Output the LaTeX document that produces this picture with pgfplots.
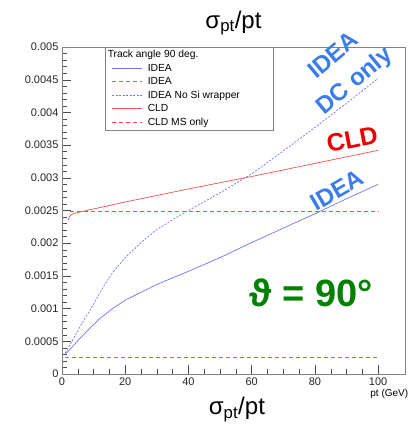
\documentclass[border=0pt]{standalone}
\usepackage{fontspec}
\setmainfont{Liberation Sans}
\usepackage{pgfplots}
\pgfplotsset{compat=1.18}

\definecolor{lnblue}{RGB}{115,115,250}
\definecolor{lnred}{RGB}{245,80,80}
\definecolor{txtblue}{RGB}{60,125,235}
\definecolor{txtred}{RGB}{235,0,0}
\definecolor{txtgreen}{RGB}{0,130,0}
\definecolor{frame}{RGB}{130,130,130}

\begin{document}
\begin{tikzpicture}
\useasboundingbox (-62pt,-58pt) rectangle (349pt,374pt);
\begin{axis}[
    scale only axis,
    width=343pt, height=327pt,
    clip mode=individual,
    xmin=0, xmax=108.5,
    ymin=0, ymax=0.005,
    xtick={0,20,...,100},
    minor x tick num=3,
    ytick={0,0.0005,...,0.0051},
    yticklabels={0,0.0005,0.001,0.0015,0.002,0.0025,0.003,0.0035,0.004,0.0045,0.005},
    minor y tick num=4,
    scaled y ticks=false,
    tick pos=left,
    tick align=inside,
    major tick length=9pt,
    minor tick length=5pt,
    axis line style={frame},
    every tick/.style={black!70},
    tick label style={font=\fontsize{11}{13}\selectfont, black!85},
    /pgf/number format/assume math mode=true,
    xlabel={pt (GeV)},
    xlabel style={at={(axis description cs:1.01,-0.047)}, anchor=north east,
        font=\fontsize{10}{12}\selectfont, inner sep=0pt},
    legend cell align=left,
    legend image code/.code={\draw[#1] (0pt,0pt) -- (30pt,0pt); \path (33pt,0pt);},
    legend style={at={(rel axis cs:0.125,1)}, anchor=north west,
        draw=frame, fill=white, font=\fontsize{10.3}{12}\selectfont,
        row sep=0.8pt, inner xsep=7pt, inner ysep=1pt},
    every axis plot/.append style={line width=0.7pt},
]
\addlegendimage{empty legend}
\addlegendentry{\hspace*{-40pt}Track angle 90 deg.}

% IDEA full
\addplot[lnblue] coordinates {
 (1,0.00030) (3,0.00040) (5,0.00051) (8,0.00066) (12,0.00085) (16,0.00100)
 (20,0.00113) (25,0.00125) (30,0.00137) (40,0.00157) (50,0.00178)
 (60,0.00201) (70,0.00223) (80,0.00245) (90,0.00268) (100,0.00290)
};
\addlegendentry{IDEA}

% IDEA MS only
\addplot[lnblue, dash pattern=on 4pt off 3pt] coordinates {
 (1,0.00026) (100,0.00026)
};
\addlegendentry{IDEA}

% IDEA no Si wrapper
\addplot[lnblue, dash pattern=on 2pt off 1.5pt] coordinates {
 (1,0.00032) (2,0.00040) (4,0.00057) (6,0.00075) (8,0.00091) (10,0.00107)
 (13,0.00133) (16,0.00155) (20,0.00178) (25,0.00201) (30,0.00221)
 (35,0.00236) (40,0.00250) (50,0.00277) (60,0.00306) (70,0.00341)
 (80,0.00377) (90,0.00414) (100,0.00452)
};
\addlegendentry{\makebox[116pt][l]{IDEA No Si wrapper}}

% CLD full
\addplot[lnred] coordinates {
 (2,0.00235) (2.3,0.00240) (2.8,0.00243) (3.5,0.00245) (5,0.00247)
 (20,0.00263) (40,0.00283) (60,0.00302) (80,0.00322) (100,0.00342)
};
\addlegendentry{CLD}

% CLD MS only
\addplot[lnred, dash pattern=on 4pt off 3pt] coordinates {
 (2.5,0.00248) (100,0.00248)
};
\addlegendentry{CLD MS only}

\node[txtblue, rotate=40, align=center, font=\fontsize{24}{33}\selectfont\bfseries]
    at (axis cs:89.5,0.00466) {IDEA\\DC only};
\node[txtred, rotate=11, font=\fontsize{25}{30}\selectfont\bfseries]
    at (axis cs:91.8,0.00359) {CLD};
\node[txtblue, rotate=30, font=\fontsize{24}{30}\selectfont\bfseries]
    at (axis cs:87,0.00281) {IDEA};
\node[txtgreen, font=\fontsize{38}{44}\selectfont\bfseries]
    at (axis cs:78.8,0.00124) {ϑ = 90°};

\node[anchor=base, font=\fontsize{24}{28}\selectfont]
    at (axis description cs:0.5,1.058) {σ\textsubscript{pt}/pt};
\node[anchor=base, font=\fontsize{24}{28}\selectfont]
    at (axis description cs:0.51,-0.125) {σ\textsubscript{pt}/pt};
\end{axis}
\end{tikzpicture}
\end{document}
